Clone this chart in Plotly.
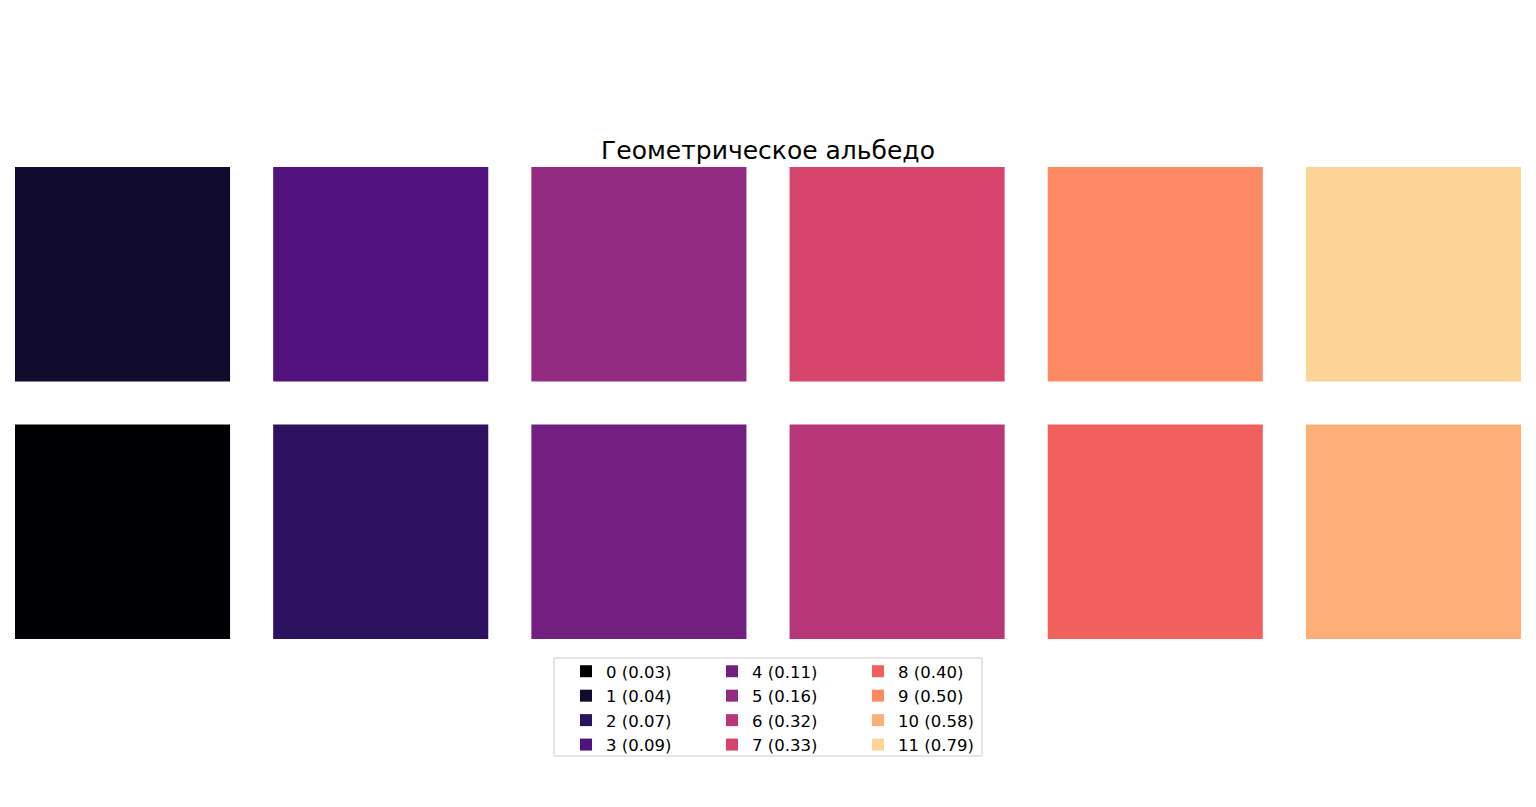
import plotly.graph_objects as go

# Data
indices = list(range(12))
albedo = [0.03, 0.04, 0.07, 0.09, 0.11, 0.16, 0.32, 0.33, 0.40, 0.50, 0.58, 0.79]
colors = ["#000004", "#100b2d", "#2c115f", "#51127c", "#721f81", "#932b80",
          "#b73779", "#d8456c", "#f1605d", "#fd8a62", "#feaf77", "#fed597"]
title_text = "Геометрическое альбедо"

n_cols = 6
cell = 0.833  # fraction of grid pitch taken by a square

fig = go.Figure()
legend_names = ["legend", "legend2", "legend3"]
for i, a in enumerate(albedo):
    col = i // 2
    row = i % 2
    fig.add_trace(go.Bar(
        x=[col], y=[cell], base=[row], width=cell,
        marker=dict(color=colors[i], line=dict(width=0)),
        name=f"{indices[i]} ({a:.2f})",
        legend=legend_names[i // 4],
        hovertemplate=f"{indices[i]}: {a:.2f}<extra></extra>",
    ))

W, H = 1536, 807
ml, mr, mt, mb = 15, 15, 167, 168
pw = W - ml - mr
ph = H - mt - mb

def px_x(px):
    return (px - ml) / pw

def px_y(py):
    return (H - mb - py) / ph

leg_common = dict(
    font=dict(family="DejaVu Sans", size=16.5, color="#000000"),
    bgcolor="rgba(0,0,0,0)", borderwidth=0,
    yanchor="top", xanchor="left", y=px_y(654),
    orientation="v", itemwidth=30,
)

fig.update_layout(
    width=W, height=H,
    margin=dict(l=ml, r=mr, t=mt, b=mb),
    paper_bgcolor="white", plot_bgcolor="white",
    barmode="overlay",
    showlegend=True,
    title=dict(text=title_text, x=0.5, xanchor="center", y=1 - 150 / H, yanchor="middle",
               font=dict(family="DejaVu Sans", size=25, color="#000000")),
    xaxis=dict(range=[-cell / 2, n_cols - 1 + cell / 2], visible=False, fixedrange=True),
    yaxis=dict(range=[0, 1 + cell], visible=False, fixedrange=True),
    legend=dict(x=px_x(566), **leg_common),
    legend2=dict(x=px_x(712), **leg_common),
    legend3=dict(x=px_x(858), **leg_common),
    shapes=[dict(type="rect", xref="paper", yref="paper",
                 x0=px_x(554), x1=px_x(982), y0=px_y(756), y1=px_y(658),
                 line=dict(color="#cccccc", width=1), fillcolor="rgba(255,255,255,0.8)",
                 layer="below")],
    font=dict(family="DejaVu Sans"),
)

fig.write_html("out.html")
